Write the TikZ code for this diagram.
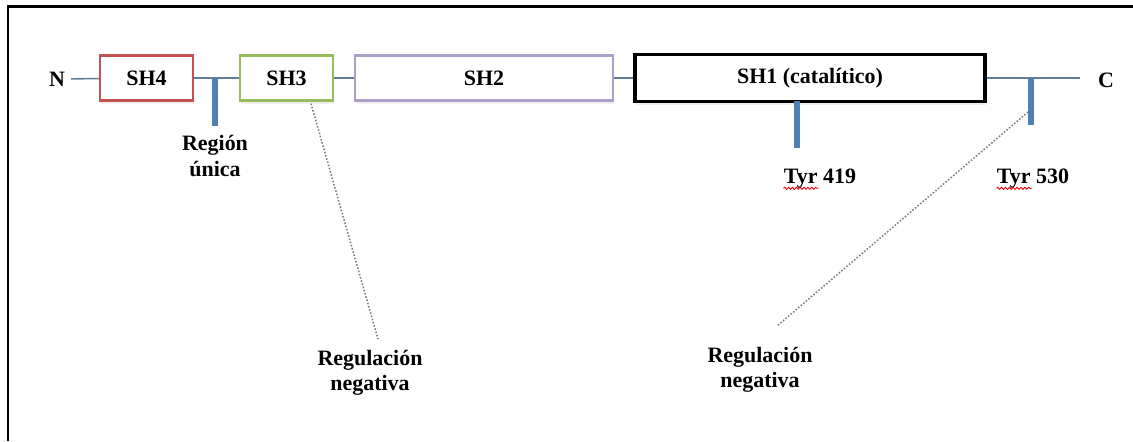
\documentclass[tikz,border=0pt]{standalone}
\usepackage{fontspec}
\setmainfont{Liberation Serif}
\usepackage{tikz}
\usetikzlibrary{shadows,calc,decorations.pathmorphing}
\definecolor{sh4col}{RGB}{196,82,80}
\definecolor{sh3col}{RGB}{150,188,92}
\definecolor{sh2col}{RGB}{172,160,200}
\definecolor{linkcol}{RGB}{96,124,152}
\definecolor{tickcol}{RGB}{78,128,178}
\tikzset{
  dom/.style={draw,line width=1.3pt,fill=white,minimum height=0.9cm,inner sep=0pt,
    font=\fontsize{12.5}{14}\selectfont\bfseries,
    drop shadow={shadow xshift=0.6pt,shadow yshift=-2pt,opacity=0.12}},
  lbl/.style={font=\fontsize{12.5}{14.5}\selectfont\bfseries,align=center},
  bb/.style={linkcol,line width=0.9pt},
  tyr/.style={tickcol,line width=3pt},
  regline/.style={gray,densely dotted,line width=0.9pt}
}

\begin{document}
\begin{tikzpicture}[x=0.02cm,y=-0.02cm]
\useasboundingbox (0,0) rectangle (1133,441);
\draw[line width=1.7pt] (8,441) -- (8,6) -- (1133,6);

% domains
\node[lbl] (N) at (57,79) {N};
\node[dom,draw=sh4col,minimum width=1.86cm] (sh4) at (146.5,78) {SH4};
\node[dom,draw=sh3col,minimum width=1.86cm] (sh3) at (286.5,78) {SH3};
\node[dom,draw=sh2col,minimum width=5.16cm] (sh2) at (484,78) {SH2};
\node[dom,draw=black,line width=2.2pt,minimum width=7cm,minimum height=0.94cm] (sh1) at (810,78) {SH1 (catal\'itico)};
\node[lbl] (C) at (1106,80) {C};
\coordinate (cend) at (1080,78);

% backbone
\draw[bb] (N) -- (sh4);
\draw[bb] (sh4) -- (sh3);
\draw[bb] (sh3) -- (sh2);
\draw[bb] (sh2) -- (sh1);
\draw[bb] (sh1.east |- cend) -- (cend);

% sites
\coordinate (ru) at (215,78);
\draw[tyr] (ru) -- ++(0,48) coordinate (ru2);
\node[lbl,below=2pt] (unica) at (ru2) {Regi\'on\\\'unica};

\coordinate (t419) at (797,101);
\draw[tyr] (t419) -- ++(0,47) coordinate (t419b);
\node[lbl] (tyrA) at (820,179) {Tyr 419};
\draw[red,line width=0.5pt,decorate,decoration={snake,amplitude=0.6pt,segment length=2.2pt}]
  ($(tyrA.base west)+(3.3pt,-2.5pt)$) -- ++(20pt,0);

\coordinate (t530) at (1031,78);
\draw[tyr] (t530) -- ++(0,47) coordinate (t530b);
\node[lbl] (tyrB) at (1033,179) {Tyr 530};
\draw[red,line width=0.5pt,decorate,decoration={snake,amplitude=0.6pt,segment length=2.2pt}]
  ($(tyrB.base west)+(3.3pt,-2.5pt)$) -- ++(20pt,0);

% regulacion negativa
\node[lbl] (reg1) at (370,373) {Regulaci\'on\\negativa};
\node[lbl] (reg2) at (760,370) {Regulaci\'on\\negativa};
\draw[regline] ($(sh3.south)+(24.5,2)$) -- ($(reg1.north)+(8,-5)$);
\draw[regline] ($(t530b)+(-3,-13)$) -- ($(reg2.north)+(17,-15)$);
\end{tikzpicture}
\end{document}
